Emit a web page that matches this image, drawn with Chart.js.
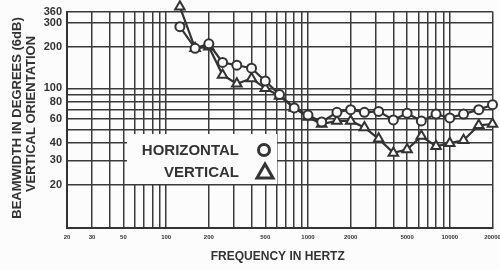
<!DOCTYPE html>
<html><head><meta charset="utf-8">
<script src="https://cdn.jsdelivr.net/npm/chart.js@4.4.0/dist/chart.umd.min.js"></script>
<style>html,body{margin:0;padding:0;background:#fcfcfc}</style>
</head><body>
<canvas id="c" width="500" height="270" style="display:block;width:500px;height:270px"></canvas>
<script>
// ---- data ----
const frequencies = [125,160,200,250,315,400,500,630,800,1000,1250,1600,2000,2500,3150,4000,5000,6300,8000,10000,12500,16000,20000];
const horizontal  = [280,195,210,154,147,140,113,90,72,64,57,67,70,67,68,59,66,58,65,61,65,70,76];
const vertical    = [390,195,200,125,108,118,100,88,72,62,55,58,58,52,43,34,36,45,38,40,42,54,55];
const xGridValues = [20,30,40,50,60,70,80,90,100,200,300,400,500,600,700,800,900,1000,2000,3000,4000,5000,6000,7000,8000,9000,10000,20000];
const xTickLabels = [20,30,50,100,200,500,1000,2000,5000,10000,20000];
const yGridValues = [20,30,40,50,60,70,80,90,100,200,300,360];
const yTickLabels = [20,30,40,60,80,100,200,300,360];
const seriesNames = ['HORIZONTAL','VERTICAL'];
const yTitleLines = ['BEAMWIDTH IN DEGREES (6dB)','VERTICAL ORIENTATION'];
const xTitle = 'FREQUENCY IN HERTZ';

const INK = '#333333';
const FONT = "'Liberation Sans', Arial, Helvetica, sans-serif";

const extras = {
  id: 'extras',
  beforeDraw(chart) {
    const ctx = chart.ctx;
    ctx.save();
    ctx.fillStyle = '#fcfcfc';
    ctx.fillRect(0, 0, chart.width, chart.height);
    ctx.restore();
  },
  beforeDatasetsDraw(chart) {
    // white legend panel that hides the grid behind it
    const ctx = chart.ctx;
    ctx.save();
    ctx.fillStyle = '#fcfcfc';
    ctx.fillRect(127, 134, 150, 50);
    ctx.restore();
  },
  afterDraw(chart) {
    const ctx = chart.ctx;
    const xs = chart.scales.x;
    ctx.save();
    ctx.fillStyle = INK;
    ctx.strokeStyle = INK;
    // x tick labels
    ctx.font = "bold 6px " + FONT;
    ctx.textAlign = 'center';
    ctx.textBaseline = 'middle';
    xTickLabels.forEach(v => ctx.fillText(String(v), xs.getPixelForValue(v), 237));
    // x title
    ctx.font = "bold 12px " + FONT;
    ctx.fillText(xTitle, (chart.chartArea.left + chart.chartArea.right) / 2 - 2, 257);
    // y titles
    ctx.font = "bold 13px " + FONT;
    ctx.save(); ctx.translate(17, 118); ctx.rotate(-Math.PI / 2); ctx.fillText(yTitleLines[0], 0, 0); ctx.restore();
    ctx.save(); ctx.translate(31, 114); ctx.rotate(-Math.PI / 2); ctx.fillText(yTitleLines[1], 0, 0); ctx.restore();
    // legend
    ctx.font = "bold 15px " + FONT;
    ctx.textAlign = 'right';
    ctx.fillText(seriesNames[0], 239, 151);
    ctx.fillText(seriesNames[1], 239, 173);
    ctx.lineWidth = 3;
    ctx.fillStyle = '#fcfcfc';
    ctx.beginPath(); ctx.arc(264, 150, 5.5, 0, Math.PI * 2); ctx.fill(); ctx.stroke();
    ctx.beginPath(); ctx.moveTo(265, 164); ctx.lineTo(273, 178); ctx.lineTo(257, 178); ctx.closePath(); ctx.fill(); ctx.stroke();
    ctx.restore();
  }
};

const gridOpts = { color: '#3a3a3a', lineWidth: 1.5, drawTicks: false };

new Chart(document.getElementById('c'), {
  type: 'line',
  data: {
    datasets: [
      {
        label: seriesNames[0],
        data: frequencies.map((f, i) => ({ x: f, y: horizontal[i] })),
        borderColor: INK, borderWidth: 2.2,
        pointStyle: 'circle', pointRadius: 4.5, pointBorderWidth: 2,
        pointBackgroundColor: '#fcfcfc', pointBorderColor: INK,
        tension: 0, clip: false
      },
      {
        label: seriesNames[1],
        data: frequencies.map((f, i) => ({ x: f, y: vertical[i] })),
        borderColor: INK, borderWidth: 2.2,
        pointStyle: 'triangle', pointRadius: 5.5, pointBorderWidth: 2,
        pointBackgroundColor: '#fcfcfc', pointBorderColor: INK,
        tension: 0, clip: false
      }
    ]
  },
  options: {
    responsive: false,
    animation: false,
    devicePixelRatio: 1,
    layout: { padding: { top: 9, right: 3, left: 0, bottom: 0 } },
    plugins: { legend: { display: false }, tooltip: { enabled: false } },
    scales: {
      x: {
        type: 'logarithmic', min: 20, max: 20000,
        afterBuildTicks: s => { s.ticks = xGridValues.map(v => ({ value: v })); },
        afterFit: s => { s.height = 42; },
        ticks: { display: false },
        grid: gridOpts,
        border: { color: INK, width: 2 }
      },
      y: {
        type: 'logarithmic', min: 9.7, max: 360,
        afterBuildTicks: s => { s.ticks = yGridValues.map(v => ({ value: v })); },
        afterFit: s => { s.width = 67; },
        ticks: {
          autoSkip: false, padding: 5, color: INK,
          font: { family: FONT, weight: 'bold', size: 11 },
          callback: v => yTickLabels.includes(v) ? String(v) : ''
        },
        grid: gridOpts,
        border: { color: INK, width: 2 }
      }
    }
  },
  plugins: [extras]
});
</script>
</body></html>
